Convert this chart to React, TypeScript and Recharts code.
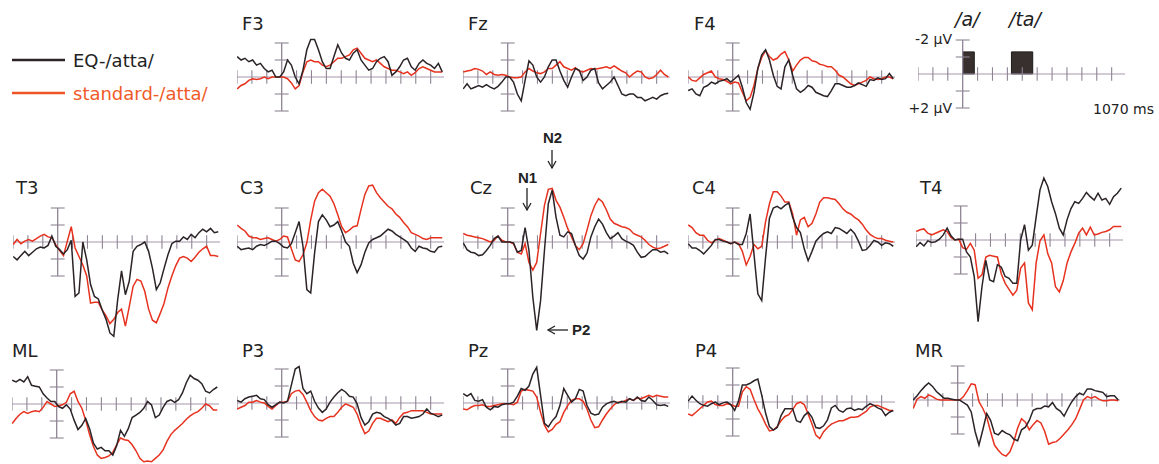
import React from "react";
import { LineChart, Line, XAxis, YAxis, ReferenceLine, ReferenceArea } from "recharts";

// time points (ms) of every sample
const times = [
  -230, -210, -190, -170, -150, -130, -110, -90, -70, -50,
  -30, -10, 10, 30, 50, 70, 90, 110, 130, 150,
  170, 190, 210, 230, 250, 270, 290, 310, 330, 350,
  370, 390, 410, 430, 450, 470, 490, 510, 530, 550,
  570, 590, 610, 630, 650, 670, 690, 710, 730, 750,
  770, 790, 810, 830,
];
const xTicks = [-231, -154, -77, 77, 154, 231, 308, 385, 462, 539, 616, 693, 770];
const yTicks = [-2, -1, 1, 2];
const X_DOMAIN: [number, number] = [-231, 839];
const Y_DOMAIN: [number, number] = [-5, 6];

// ---- values in µV (negative = up) ----
const F3_eq = [
  -1.2, -1.0, -1.1, -0.9, -1.0, -0.7, -0.8, -0.5, -0.3, -0.4,
  0.0, 0.0, -0.3, -1.0, -0.7, 0.0, 0.4, -0.4, -1.6, -2.2,
  -2.2, -1.6, -0.9, -0.5, -0.5, -1.2, -1.9, -1.4, -1.1, -1.0,
  -1.4, -1.6, -1.0, -0.7, -0.4, -0.5, -0.9, -1.1, -1.2, -0.9,
  -0.1, -0.3, -0.6, -1.0, -1.1, -0.6, -0.4, -0.8, -1.0, -0.8,
  -0.7, -0.5, -0.8, -0.3,
];
const F3_std = [
  0.7, 0.5, 0.4, 0.2, 0.1, 0.15, 0.1, 0.0, 0.1, 0.0,
  0.0, 0.0, 0.0, 0.1, 0.35, 0.7, 0.5, -0.3, -0.9, -1.0,
  -0.9, -0.9, -0.7, -0.6, -0.7, -0.9, -1.1, -1.1, -1.2, -1.3,
  -1.6, -1.7, -1.4, -1.1, -1.0, -0.9, -1.0, -0.8, -0.6, -0.5,
  -0.4, -0.4, -0.3, -0.2, -0.3, -0.1, -0.25, -0.5, -0.6, -0.5,
  -0.4, -0.3, -0.3, -0.3,
];
const Fz_eq = [
  0.7, 0.4, 0.7, 0.6, 0.5, 0.6, 0.45, 0.6, 0.7, 0.55,
  0.3, 0.0, 0.0, 0.3, 1.0, 1.4, 0.2, -0.95, -0.7, 0.0,
  0.3, 0.0, -0.6, -1.0, -1.0, -0.35, 0.2, 0.6, 0.0, -0.5,
  -0.4, 0.2, 0.0, -0.4, -0.5, 0.35, 0.7, 0.5, 0.3, 0.0,
  0.5, 1.0, 1.1, 1.0, 1.0, 1.2, 1.2, 1.4, 1.3, 1.2,
  1.3, 1.1, 1.0, 0.95,
];
const Fz_std = [
  -0.3, -0.35, -0.4, -0.5, -0.45, -0.35, -0.15, -0.3, -0.15, -0.1,
  -0.15, -0.1, 0.0, 0.05, 0.05, 0.0, -0.3, -0.5, -0.35, -0.25,
  -0.2, -0.3, -0.5, -0.5, -0.7, -0.9, -0.6, -0.5, -0.4, -0.55,
  -0.35, -0.3, -0.4, -0.5, -0.45, -0.5, -0.55, -0.6, -0.5, -0.65,
  -0.5, -0.35, -0.25, 0.0, -0.2, -0.35, -0.3, 0.0, 0.1, 0.05,
  -0.15, -0.4, -0.15, 0.0,
];
const F4_eq = [
  0.8, 0.7, 1.0, 1.1, 0.6, 0.5, 0.3, 0.4, 0.25, 0.2,
  0.1, 0.3, 0.1, -0.1, 0.6, 1.5, 1.9, 0.9, -0.5, -1.3,
  -1.6, -1.0, -0.1, 0.55, 0.7, -0.6, -1.0, -0.1, 0.7, 0.9,
  0.75, 0.5, 0.6, 0.9, 1.0, 1.1, 1.15, 0.8, 0.4, 0.4,
  0.5, 0.6, 0.6, 0.5, 0.35, 0.45, 0.55, 0.15, 0.2, 0.05,
  0.15, 0.1, -0.2, 0.1,
];
const F4_std = [
  0.0, 0.2, 0.25, 0.05, -0.15, -0.25, -0.35, 0.0, 0.1, 0.15,
  0.25, 0.4, 0.3, 0.35, 0.9, 1.4, 1.2, 0.5, -0.5, -1.15,
  -1.55, -1.2, -1.0, -1.1, -1.35, -1.5, -1.0, -0.35, -0.7, -1.0,
  -1.15, -1.15, -0.95, -0.9, -0.75, -0.7, -0.6, -0.6, -0.4, -0.1,
  0.0, 0.2, 0.4, 0.5, 0.4, 0.3, 0.2, 0.0, 0.1, 0.15,
  0.1, 0.0, 0.0, 0.1,
];
const T3_eq = [
  0.85, 1.05, 0.8, 0.55, 0.8, 0.6, 0.4, 0.3, 0.35, 0.2,
  -0.35, 0.25, 0.45, 0.7, 0.45, -0.1, 3.2, 3.0, 0.0, 1.05,
  2.5, 3.2, 3.35, 4.0, 4.55, 5.35, 5.55, 3.4, 1.7, 3.1,
  2.3, 0.55, 0.25, 0.15, 0.0, 0.55, 1.55, 2.8, 2.4, 1.55,
  0.75, 0.1, -0.05, -0.05, -0.3, -0.15, -0.45, -0.25, -0.55, -0.75,
  -0.6, -0.8, -0.55, -0.6,
];
const T3_std = [
  0.15, -0.15, 0.1, -0.05, -0.15, -0.05, -0.2, -0.35, -0.45, -0.3,
  -0.25, 0.15, 0.5, 0.8, -0.05, -0.9, 0.35, 0.85, 1.35, 2.0,
  3.6, 3.55, 3.55, 4.0, 4.35, 4.8, 4.55, 4.15, 3.95, 4.95,
  3.8, 2.6, 2.2, 2.3, 2.9, 3.95, 4.6, 4.75, 4.2, 3.6,
  2.7, 2.0, 1.4, 0.95, 0.85, 0.95, 1.15, 0.9, 0.6, 0.4,
  0.25, 0.8, 0.8, 0.85,
];
const C3_eq = [
  0.25, 0.45, 0.4, 0.35, 0.45, 0.25, 0.15, 0.2, 0.1, -0.05,
  -0.05, 0.1, 0.3, 0.35, 0.1, -0.55, -1.2, 0.25, 2.8, 3.0,
  0.65, -1.2, -1.6, -1.3, -0.9, -1.0, -1.2, -0.65, 0.0, 0.25,
  1.25, 1.8, 1.35, 0.6, 0.05, -0.15, -0.25, -0.35, -0.55, -0.75,
  -0.65, -0.45, -0.3, -0.15, 0.0, 0.35, 0.55, 0.25, 0.35, 0.4,
  0.55, 0.6, 0.3, 0.25,
];
const C3_std = [
  -1.0, -0.8, -0.65, -0.35, -0.25, -0.25, -0.15, -0.2, -0.25, -0.15,
  -0.05, -0.15, -0.35, -0.3, 0.4, 1.05, 1.15, 0.75, 0.05, -1.3,
  -2.4, -2.9, -3.1, -2.9, -2.7, -2.25, -1.6, -0.9, -0.55, -0.7,
  -0.9, -0.95, -1.9, -2.8, -3.3, -3.35, -2.9, -2.6, -2.35, -2.1,
  -1.95, -1.65, -1.45, -1.15, -0.9, -0.55, -0.45, -0.35, -0.2, -0.15,
  -0.25, -0.25, -0.25, -0.25,
];
const Cz_eq = [
  0.05, 0.45, 0.6, 0.65, 0.8, 0.75, 0.5, 0.2, -0.2, -0.35,
  0.0, 0.0, 0.0, 0.05, 0.6, 0.5, -0.85, 0.5, 3.25, 5.2,
  3.45, 0.5, -2.25, -3.05, -1.45, -0.4, -0.3, -0.6, -0.5, 0.2,
  0.8, 1.0, 0.65, -0.3, -0.9, -1.35, -1.05, -0.55, -0.2, -0.35,
  -0.55, -0.2, -0.05, 0.05, 0.2, 0.6, 0.9, 0.85, 0.65, 0.45,
  0.45, 0.6, 0.55, 0.7,
];
const Cz_std = [
  -0.5, -0.4, -0.35, -0.3, -0.25, -0.2, -0.1, 0.0, -0.1, -0.35,
  -0.1, 0.0, 0.0, 0.1, 0.6, 0.7, 0.1, 1.2, 1.65, 1.2,
  -0.5, -2.15, -3.1, -3.15, -2.45, -2.05, -1.45, -0.8, -0.3, 0.2,
  0.45, 0.1, -0.7, -1.55, -2.15, -2.55, -2.35, -1.9, -1.35, -1.1,
  -1.0, -0.9, -0.85, -0.75, -0.5, -0.4, -0.3, -0.1, 0.15, 0.3,
  0.4, 0.35, 0.25, 0.15,
];
const C4_eq = [
  0.1, 0.35, 0.35, 0.5, 0.7, 0.45, 0.2, -0.15, -0.15, -0.05,
  0.0, 0.1, 0.0, 0.15, 0.15, -0.5, -1.65, 0.7, 3.05, 3.45,
  0.9, -1.4, -2.0, -2.1, -1.95, -2.15, -2.3, -1.45, -0.85, -0.55,
  0.4, 1.1, 0.55, -0.05, -0.3, -0.5, -0.6, -0.5, -0.85, -0.8,
  -0.65, -0.5, -0.75, -0.5, -0.05, 0.5, 0.45, 0.2, -0.1, 0.0,
  0.2, 0.05, 0.1, 0.25,
];
const C4_std = [
  -1.0, -0.85, -0.55, -0.4, -0.4, -0.1, 0.05, -0.1, -0.2, -0.1,
  0.0, 0.1, 0.0, 0.1, 0.55, 1.35, 0.85, 0.15, 0.4, 0.25,
  -1.2, -2.25, -2.95, -2.95, -2.7, -2.35, -2.35, -1.65, -0.4, -1.3,
  -1.45, -0.9, -1.1, -1.65, -2.35, -2.6, -2.6, -2.55, -2.5, -2.25,
  -1.95, -1.75, -1.65, -1.45, -1.3, -1.05, -0.7, -0.45, -0.3, -0.2,
  -0.2, -0.1, -0.05, 0.0,
];
const T4_eq = [
  0.4, 0.15, 0.35, 0.05, 0.15, 0.1, -0.05, -0.3, -0.7, -0.25,
  0.0, -0.05, -0.05, 0.7, 1.0, 2.15, 4.8, 2.75, 1.2, 2.35,
  2.45, 1.45, 1.6, 2.15, 2.25, 2.55, 2.55, 0.0, -0.9, 0.6,
  0.3, -1.35, -2.95, -3.65, -3.15, -2.25, -1.55, -0.7, -0.3, -1.2,
  -1.85, -2.25, -2.15, -2.45, -2.8, -2.55, -2.35, -2.75, -2.35, -2.45,
  -2.1, -2.55, -2.75, -3.05,
];
const T4_std = [
  -0.5, -0.6, -0.65, -0.4, -0.3, -0.4, -0.5, -0.6, -0.5, -0.15,
  0.0, -0.05, 0.45, 0.55, 0.2, 0.6, 2.25, 2.05, 1.0, 0.9,
  0.95, 1.0, 2.0, 2.55, 2.9, 3.25, 2.95, 1.65, 1.35, 3.7,
  4.1, 1.35, 0.05, -0.3, 0.8, 1.35, 2.75, 3.05, 2.4, 1.35,
  0.7, 0.2, -0.4, -0.7, -0.3, -0.75, -0.3, -0.35, -0.45, -0.5,
  -0.6, -0.8, -0.8, -0.8,
];
const ML_eq = [
  -1.4, -1.3, -1.45, -1.3, -1.6, -1.1, -1.05, -1.0, -0.6, -0.35,
  -0.15, -0.15, 0.15, 0.25, 0.05, 0.3, 0.95, 1.5, 1.25, 0.85,
  1.45, 2.3, 2.65, 2.55, 2.75, 2.75, 3.0, 2.45, 1.55, 1.9,
  1.45, 0.8, 0.65, 0.5, 0.25, -0.15, 0.05, 0.8, 0.65, 0.2,
  -0.15, -0.25, -0.1, -0.25, -0.65, -1.25, -1.7, -1.5, -1.4, -1.2,
  -0.75, -0.65, -0.85, -1.0,
];
const ML_std = [
  1.15, 0.85, 0.6, 0.45, 0.55, 0.45, 0.4, 0.45, 0.2, -0.15,
  0.0, 0.15, 0.1, 0.05, -0.1, -0.6, -0.75, -0.15, 0.25, 0.95,
  1.8, 2.5, 3.0, 3.2, 3.15, 3.05, 2.85, 2.4, 2.0, 2.1,
  2.15, 2.4, 2.75, 3.2, 3.4, 3.35, 3.4, 3.2, 3.0, 2.7,
  2.2, 1.8, 1.55, 1.35, 1.15, 0.9, 0.7, 0.55, 0.45, 0.25,
  0.0, 0.1, 0.35, 0.35,
];
const P3_eq = [
  -0.15, -0.05, -0.25, -0.35, -0.4, -0.45, -0.25, -0.2, 0.1, 0.25,
  0.1, -0.05, 0.0, -0.1, -1.05, -2.0, -2.15, -0.85, -0.55, -0.7,
  -0.1, 0.3, 0.55, 0.35, -0.05, -0.35, -0.6, -0.8, -0.65, -0.4,
  -0.35, 0.05, 0.85, 1.3, 1.1, 0.65, 0.55, 0.6, 0.8, 0.9,
  1.05, 1.3, 1.2, 0.8, 0.8, 0.9, 0.85, 0.8, 0.65, 0.35,
  0.6, 0.7, 0.8, 0.7,
];
const P3_std = [
  0.35, 0.25, 0.15, -0.05, -0.05, -0.15, -0.05, 0.0, 0.2, 0.35,
  0.15, -0.05, -0.05, -0.1, -0.55, -0.7, -0.75, -0.5, -0.05, 0.45,
  0.8, 1.0, 1.05, 0.9, 0.8, 0.8, 0.55, 0.25, 0.05, 0.15,
  0.25, 0.65, 1.3, 1.8, 1.65, 1.2, 0.9, 0.9, 1.0, 1.1,
  1.0, 1.2, 0.85, 0.6, 0.55, 0.45, 0.45, 0.45, 0.45, 0.55,
  0.65, 0.65, 0.65, 0.65,
];
const Pz_eq = [
  -0.55, -0.4, -0.55, -0.15, -0.1, -0.2, 0.25, 0.4, 0.2, 0.25,
  0.1, 0.05, 0.05, -0.05, -0.4, -0.85, -0.75, -1.0, -1.7, -2.1,
  -0.45, 1.2, 1.4, 1.05, 0.8, 0.15, -0.85, -0.45, -0.05, -0.25,
  -0.8, -0.7, 0.15, 0.6, 0.7, 0.65, 0.25, 0.05, -0.05, -0.1,
  0.0, -0.1, -0.05, -0.25, -0.15, -0.35, -0.15, -0.1, -0.35, -0.15,
  0.1, 0.15, 0.1, 0.2,
];
const Pz_std = [
  0.35, 0.4, 0.25, 0.15, 0.15, 0.1, 0.2, 0.2, 0.15, 0.1,
  0.05, 0.05, 0.05, 0.1, -0.05, -0.7, -0.8, -0.75, -0.7, -0.35,
  0.55, 1.3, 1.7, 1.55, 1.25, 1.1, 0.55, 0.15, -0.15, -0.25,
  -0.25, -0.1, 0.35, 1.0, 1.45, 1.4, 1.0, 0.65, 0.35, 0.1,
  -0.05, -0.05, -0.15, -0.25, -0.15, -0.3, -0.25, -0.35, -0.45, -0.35,
  -0.45, -0.4, -0.35, -0.35,
];
const P4_eq = [
  -0.05, -0.35, -0.1, 0.1, 0.2, 0.25, 0.1, 0.0, 0.15, 0.05,
  0.0, 0.15, 0.5, -0.05, -1.0, -1.0, -1.1, -1.25, -1.35, -0.4,
  0.65, 1.45, 1.65, 1.5, 0.8, 0.4, 0.4, 0.4, 1.1, 1.2,
  0.8, 0.6, 0.9, 1.5, 1.55, 1.4, 1.05, 0.35, 0.2, 0.5,
  0.6, 0.4, 0.35, 0.5, 0.4, 0.45, 0.25, 0.1, 0.2, 0.35,
  0.45, 0.8, 0.6, 0.5,
];
const P4_std = [
  0.7, 0.8, 0.6, 0.4, 0.2, 0.0, -0.05, 0.15, 0.2, 0.2,
  0.1, 0.15, 0.25, 0.25, -0.6, -0.9, -0.75, -0.15, 0.4, 0.8,
  1.3, 1.7, 1.65, 1.45, 1.1, 0.85, 0.75, 0.45, 0.1, 0.0,
  0.15, 0.7, 1.3, 1.95, 2.15, 1.75, 1.5, 1.3, 1.2, 1.1,
  1.1, 1.0, 0.9, 0.9, 0.85, 0.7, 0.55, 0.3, 0.2, 0.2,
  0.3, 0.4, 0.5, 0.5,
];
const MR_eq = [
  0.0, -0.25, -0.55, -0.8, -1.0, -0.8, -0.5, -0.3, -0.1, -0.1,
  -0.05, 0.0, 0.0, 0.15, 0.3, 0.7, 1.85, 2.65, 1.75, 0.8,
  1.2, 1.95, 2.05, 1.8, 1.95, 2.05, 2.3, 2.4, 1.75, 1.6,
  1.2, 0.6, 0.5, 0.5, 0.35, 0.4, 0.15, 0.5, 0.65, 0.95,
  0.5, 0.1, -0.2, -0.4, -0.3, -0.65, -0.65, -0.55, -0.5, -0.45,
  -0.2, -0.25, -0.25, 0.0,
];
const MR_std = [
  0.5, -0.05, -0.2, -0.1, -0.3, -0.2, -0.05, 0.0, 0.0, 0.0,
  0.0, 0.0, 0.0, -0.2, -0.55, -0.95, -0.9, 0.1, 0.5, 1.0,
  1.85, 2.65, 2.95, 3.2, 3.3, 3.05, 2.45, 1.65, 1.1, 1.3,
  1.75, 1.45, 1.2, 1.35, 1.85, 2.6, 2.5, 2.45, 2.25, 2.0,
  1.75, 1.45, 1.1, 0.55, 0.0, -0.2, -0.1, -0.2, -0.05, 0.05,
  0.05, 0.0, 0.0, 0.05,
];

// stimulus bars of the scale panel (ms, µV)
const stimA = { x1: 0, x2: 60, y1: -1.3, y2: 0 };
const stimTa = { x1: 252, x2: 362, y1: -1.3, y2: 0 };

const seriesNames = ["EQ-/atta/", "standard-/atta/"];

// layout
const PANELS = [
  { name: "F3", eq: F3_eq, std: F3_std, left: 237, zero: 77, tx: 242, ty: 30 },
  { name: "Fz", eq: Fz_eq, std: Fz_std, left: 463, zero: 77, tx: 468, ty: 30 },
  { name: "F4", eq: F4_eq, std: F4_std, left: 688, zero: 77, tx: 694, ty: 30 },
  { name: "T3", eq: T3_eq, std: T3_std, left: 13, zero: 242, tx: 16, ty: 194 },
  { name: "C3", eq: C3_eq, std: C3_std, left: 237, zero: 242, tx: 240, ty: 194 },
  { name: "Cz", eq: Cz_eq, std: Cz_std, left: 463, zero: 242, tx: 470, ty: 194 },
  { name: "C4", eq: C4_eq, std: C4_std, left: 688, zero: 242, tx: 692, ty: 194 },
  { name: "T4", eq: T4_eq, std: T4_std, left: 916, zero: 240, tx: 920, ty: 194 },
  { name: "ML", eq: ML_eq, std: ML_std, left: 12, zero: 404, tx: 12, ty: 357 },
  { name: "P3", eq: P3_eq, std: P3_std, left: 237, zero: 403, tx: 242, ty: 357 },
  { name: "Pz", eq: Pz_eq, std: Pz_std, left: 463, zero: 403, tx: 468, ty: 357 },
  { name: "P4", eq: P4_eq, std: P4_std, left: 688, zero: 402, tx: 695, ty: 357 },
  { name: "MR", eq: MR_eq, std: MR_std, left: 913, zero: 400, tx: 915, ty: 357 },
];

const PX_PER_UV = 17;
const PLOT_W = 207;
const PLOT_H = (Y_DOMAIN[1] - Y_DOMAIN[0]) * PX_PER_UV;
const TOP_OFFSET = -Y_DOMAIN[0] * PX_PER_UV;

const AXIS_COLOR = "#a597ad";
const TICK_COLOR = "#8e8494";
const EQ_COLOR = "#2b2327";
const STD_COLOR = "#e6321f";

function Panel(props: { eq?: number[]; std?: number[]; left: number; zero: number; children?: React.ReactNode }) {
  const { eq, std, left, zero, children } = props;
  const data = times.map((t, i) => ({ t, eq: eq ? eq[i] : null, std: std ? std[i] : null }));
  return (
    <div style={{ position: "absolute", left, top: zero - TOP_OFFSET }}>
      <LineChart width={PLOT_W} height={PLOT_H} data={data} margin={{ top: 0, right: 0, bottom: 0, left: 0 }}>
        <XAxis dataKey="t" type="number" domain={X_DOMAIN} hide allowDataOverflow />
        <YAxis type="number" domain={Y_DOMAIN} reversed hide allowDataOverflow />
        {children}
        <ReferenceLine y={0} stroke={AXIS_COLOR} strokeWidth={1.2} />
        <ReferenceLine segment={[{ x: 0, y: -2 }, { x: 0, y: 2 }]} stroke={TICK_COLOR} strokeWidth={1.3} />
        {xTicks.map((tk) => (
          <ReferenceLine key={"x" + tk} segment={[{ x: tk, y: -0.4 }, { x: tk, y: 0.4 }]} stroke={TICK_COLOR} strokeWidth={1.1} />
        ))}
        {yTicks.map((tk) => (
          <ReferenceLine key={"y" + tk} segment={[{ x: -36, y: tk }, { x: 36, y: tk }]} stroke={TICK_COLOR} strokeWidth={1.1} />
        ))}
        {std && (
          <Line dataKey="std" type="linear" stroke={STD_COLOR} strokeWidth={1.5} dot={false} isAnimationActive={false} />
        )}
        {eq && (
          <Line dataKey="eq" type="linear" stroke={EQ_COLOR} strokeWidth={1.5} dot={false} isAnimationActive={false} />
        )}
      </LineChart>
    </div>
  );
}

export default function App() {
  return (
    <div
      style={{
        position: "absolute",
        left: 0,
        top: 0,
        width: 1159,
        height: 464,
        background: "#ffffff",
        overflow: "hidden",
        fontFamily: "'DejaVu Sans', sans-serif",
      }}
    >
      {PANELS.map((p) => (
        <Panel key={p.name} eq={p.eq} std={p.std} left={p.left} zero={p.zero} />
      ))}
      <Panel left={918} zero={74}>
        <ReferenceArea {...stimA} fill="#38302f" fillOpacity={1} stroke="#1e1a1a" strokeWidth={1} />
        <ReferenceArea {...stimTa} fill="#38302f" fillOpacity={1} stroke="#1e1a1a" strokeWidth={1} />
      </Panel>

      <svg width={1159} height={464} style={{ position: "absolute", left: 0, top: 0, pointerEvents: "none" }}>
        {PANELS.map((p) => (
          <text key={"t" + p.name} x={p.tx} y={p.ty} fontFamily="DejaVu Sans" fontSize={18} fill="#222">
            {p.name}
          </text>
        ))}

        {/* legend */}
        <line x1={12} y1={60} x2={65} y2={60} stroke={EQ_COLOR} strokeWidth={2.5} />
        <text x={73} y={67} fontFamily="DejaVu Sans" fontSize={18} fill="#222">{seriesNames[0]}</text>
        <line x1={12} y1={93} x2={65} y2={93} stroke="#ef5426" strokeWidth={2.5} />
        <text x={73} y={100} fontFamily="DejaVu Sans" fontSize={18} fill="#f05a28">{seriesNames[1]}</text>

        {/* scale panel labels */}
        <text x={955} y={26} fontFamily="DejaVu Sans" fontStyle="italic" fontSize={19} fill="#222">/a/</text>
        <text x={1009} y={26} fontFamily="DejaVu Sans" fontStyle="italic" fontSize={19} fill="#222">/ta/</text>
        <text x={952} y={44} textAnchor="end" fontFamily="DejaVu Sans" fontSize={14} fill="#222">-2 µV</text>
        <text x={952} y={113} textAnchor="end" fontFamily="DejaVu Sans" fontSize={14} fill="#222">+2 µV</text>
        <text x={1093} y={114} fontFamily="DejaVu Sans" fontSize={14} fill="#222">1070 ms</text>

        {/* Cz component labels */}
        <text x={518} y={183} fontFamily="Liberation Sans" fontWeight="bold" fontSize={15} fill="#222">N1</text>
        <line x1={527} y1={188} x2={527} y2={210} stroke="#222" strokeWidth={1.3} />
        <polyline points="523,203 527,210 531,203" fill="none" stroke="#222" strokeWidth={1.3} />
        <text x={543} y={143} fontFamily="Liberation Sans" fontWeight="bold" fontSize={15} fill="#222">N2</text>
        <line x1={552} y1={150} x2={552} y2={168} stroke="#222" strokeWidth={1.3} />
        <polyline points="548,161 552,168 556,161" fill="none" stroke="#222" strokeWidth={1.3} />
        <line x1={548} y1={330} x2={568} y2={330} stroke="#222" strokeWidth={1.3} />
        <polyline points="555,326 548,330 555,334" fill="none" stroke="#222" strokeWidth={1.3} />
        <text x={572} y={335} fontFamily="Liberation Sans" fontWeight="bold" fontSize={15} fill="#222">P2</text>
      </svg>
    </div>
  );
}
